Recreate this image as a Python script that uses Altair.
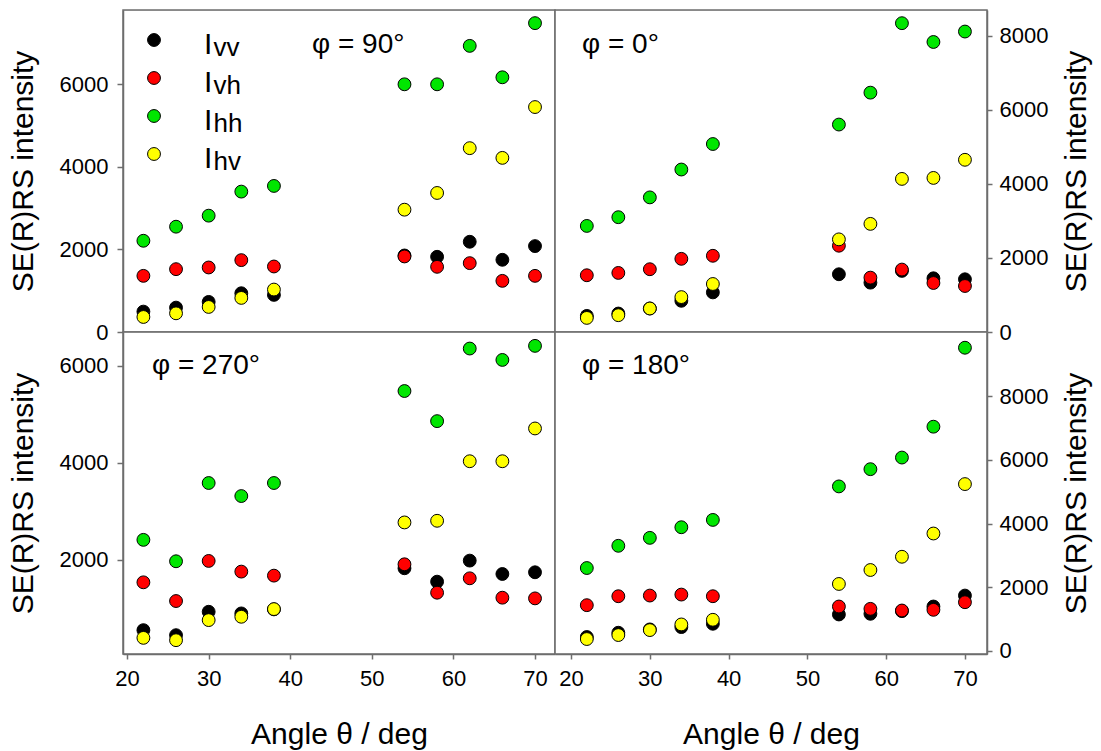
import altair as alt
import pandas as pd

theta = [22, 26, 30, 34, 38, 54, 58, 62, 66, 70]
series = ["vv", "vh", "hh", "hv"]
colors = ["#000000", "#ff0000", "#00e600", "#ffff00"]
phi_labels = ["φ = 90°", "φ = 0°", "φ = 270°", "φ = 180°"]

# phi = 90 deg (top left)
p90_vv = [494, 591, 729, 939, 899, 1854, 1822, 2186, 1749, 2081]
p90_vh = [1360, 1522, 1563, 1741, 1587, 1830, 1579, 1668, 1239, 1360]
p90_hh = [2210, 2551, 2818, 3401, 3538, 6000, 6000, 6931, 6170, 7482]
p90_hv = [364, 453, 607, 826, 1028, 2963, 3368, 4453, 4218, 5449]

# phi = 0 deg (top right)
p0_vv = [435, 499, 635, 843, 1070, 1560, 1333, 1651, 1451, 1424]
p0_vh = [1533, 1596, 1696, 1977, 2059, 2331, 1469, 1687, 1324, 1243]
p0_hh = [2866, 3102, 3637, 4390, 5079, 5605, 6467, 8344, 7836, 8118]
p0_hv = [381, 454, 635, 943, 1297, 2503, 2921, 4136, 4163, 4653]

# phi = 270 deg (bottom left)
p270_vv = [552, 448, 931, 897, 980, 1828, 1552, 1986, 1710, 1745]
p270_vh = [1538, 1152, 1979, 1759, 1676, 1910, 1324, 1621, 1221, 1207]
p270_hh = [2414, 1972, 3586, 3317, 3586, 5483, 4862, 6359, 6124, 6414]
p270_hv = [393, 345, 759, 828, 986, 2773, 2807, 4035, 4035, 4711]

# phi = 180 deg (bottom right)
p180_vv = [438, 573, 677, 750, 854, 1146, 1167, 1250, 1396, 1740]
p180_vh = [1438, 1719, 1740, 1771, 1719, 1396, 1323, 1271, 1292, 1531]
p180_hh = [2604, 3302, 3552, 3885, 4115, 5167, 5708, 6073, 7042, 9521]
p180_hv = [375, 500, 656, 833, 979, 2104, 2542, 2958, 3688, 5240]

x_ticks = [20, 30, 40, 50, 60, 70]
y_ticks_tl = [0, 2000, 4000, 6000]
y_ticks_tr = [0, 2000, 4000, 6000, 8000]
y_ticks_bl = [2000, 4000, 6000]
y_ticks_br = [0, 2000, 4000, 6000, 8000]

FONT = "Liberation Sans"
W, H = 432, 322
LINE = "#6e6e6e"


def long_df(vv, vh, hh, hv):
    rows = []
    for k, (name, vals) in enumerate(zip(series, [vv, vh, hh, hv])):
        for t, v in zip(theta, vals):
            rows.append({"theta": t, "value": v, "series": name, "ord": k})
    return pd.DataFrame(rows)


color_scale = alt.Scale(domain=series, range=colors)

ax_common = dict(
    domainColor=LINE, domainWidth=1.5, tickColor=LINE, tickWidth=1.5,
    labelFont=FONT, labelFontSize=22, labelColor="black", format="d",
    titleFont=FONT, titleFontSize=30, titleFontWeight="normal", titleColor="black",
    grid=False,
)


def panel(df, xdom, ydom, yticks, yorient, show_x, label, lx, ly, legend=False):
    if show_x:
        xaxis = alt.Axis(values=x_ticks, title="Angle θ / deg", tickSize=5, labelPadding=9,
                         titlePadding=30, **ax_common)
    else:
        xaxis = None
    if yorient == "left":
        yaxis = alt.Axis(values=yticks, orient="left", title="SE(R)RS intensity",
                         tickSize=6, labelPadding=9, titlePadding=21, **ax_common)
    else:
        yaxis = alt.Axis(values=yticks, orient="right", title="SE(R)RS intensity",
                         titleAngle=270, titleBaseline="top", tickSize=5, labelPadding=7,
                         titlePadding=14, **ax_common)
    pts = alt.Chart(df).mark_circle(size=165, stroke="black", strokeWidth=1, opacity=1).encode(
        x=alt.X("theta:Q", scale=alt.Scale(domain=xdom, nice=False, zero=False), axis=xaxis),
        y=alt.Y("value:Q", scale=alt.Scale(domain=ydom, nice=False, zero=False), axis=yaxis),
        color=alt.Color("series:N", scale=color_scale, legend=None),
        order=alt.Order("ord:Q"),
    )
    frame = alt.Chart(pd.DataFrame({"f": [0]})).mark_rect(
        fill=None, stroke=LINE, strokeWidth=1.5
    ).encode(x=alt.value(0), x2=alt.value(W), y=alt.value(0), y2=alt.value(H))
    txt = alt.Chart(pd.DataFrame({"t": [label]})).mark_text(
        font=FONT, fontSize=28, align="left", baseline="alphabetic", color="black"
    ).encode(text="t:N", x=alt.value(lx), y=alt.value(ly))
    layers = [frame, pts, txt]
    if legend:
        for i, s in enumerate(series):
            cy = 30 + 38 * i
            d = pd.DataFrame({"series": [s], "I": ["I"], "sub": [s]})
            layers.append(alt.Chart(d).mark_circle(size=165, stroke="black", strokeWidth=1, opacity=1).encode(
                x=alt.value(31), y=alt.value(cy),
                color=alt.Color("series:N", scale=color_scale, legend=None)))
            layers.append(alt.Chart(d).mark_text(font=FONT, fontSize=30, align="left", baseline="alphabetic").encode(
                text="I:N", x=alt.value(81), y=alt.value(cy + 14)))
            layers.append(alt.Chart(d).mark_text(font=FONT, fontSize=26, align="left", baseline="alphabetic").encode(
                text="sub:N", x=alt.value(90.5), y=alt.value(cy + 16)))
    return alt.layer(*layers).properties(width=W, height=H)


tl = panel(long_df(p90_vv, p90_vh, p90_hh, p90_hv), [19.5, 72.45], [0, 7800], y_ticks_tl,
           "left", False, phi_labels[0], 189, 43, legend=True)
tr = panel(long_df(p0_vv, p0_vh, p0_hh, p0_hv), [17.96, 72.8], [0, 8700], y_ticks_tr,
           "right", False, phi_labels[1], 27, 43)
bl = panel(long_df(p270_vv, p270_vh, p270_hh, p270_hv), [19.5, 72.45], [60, 6700], y_ticks_bl,
           "left", True, phi_labels[2], 29, 42)
br = panel(long_df(p180_vv, p180_vh, p180_hh, p180_hv), [17.96, 72.8], [-95, 10015], y_ticks_br,
           "right", True, phi_labels[3], 27, 42)

chart = alt.concat(tl, tr, bl, br, columns=2, spacing=0, bounds="flush").configure_view(
    stroke=LINE, strokeWidth=1.5
).configure(padding={"left": 7, "top": 8, "right": 2, "bottom": 2}, background="white")

chart.save("out.html", embed_options={"renderer": "svg", "actions": False})
